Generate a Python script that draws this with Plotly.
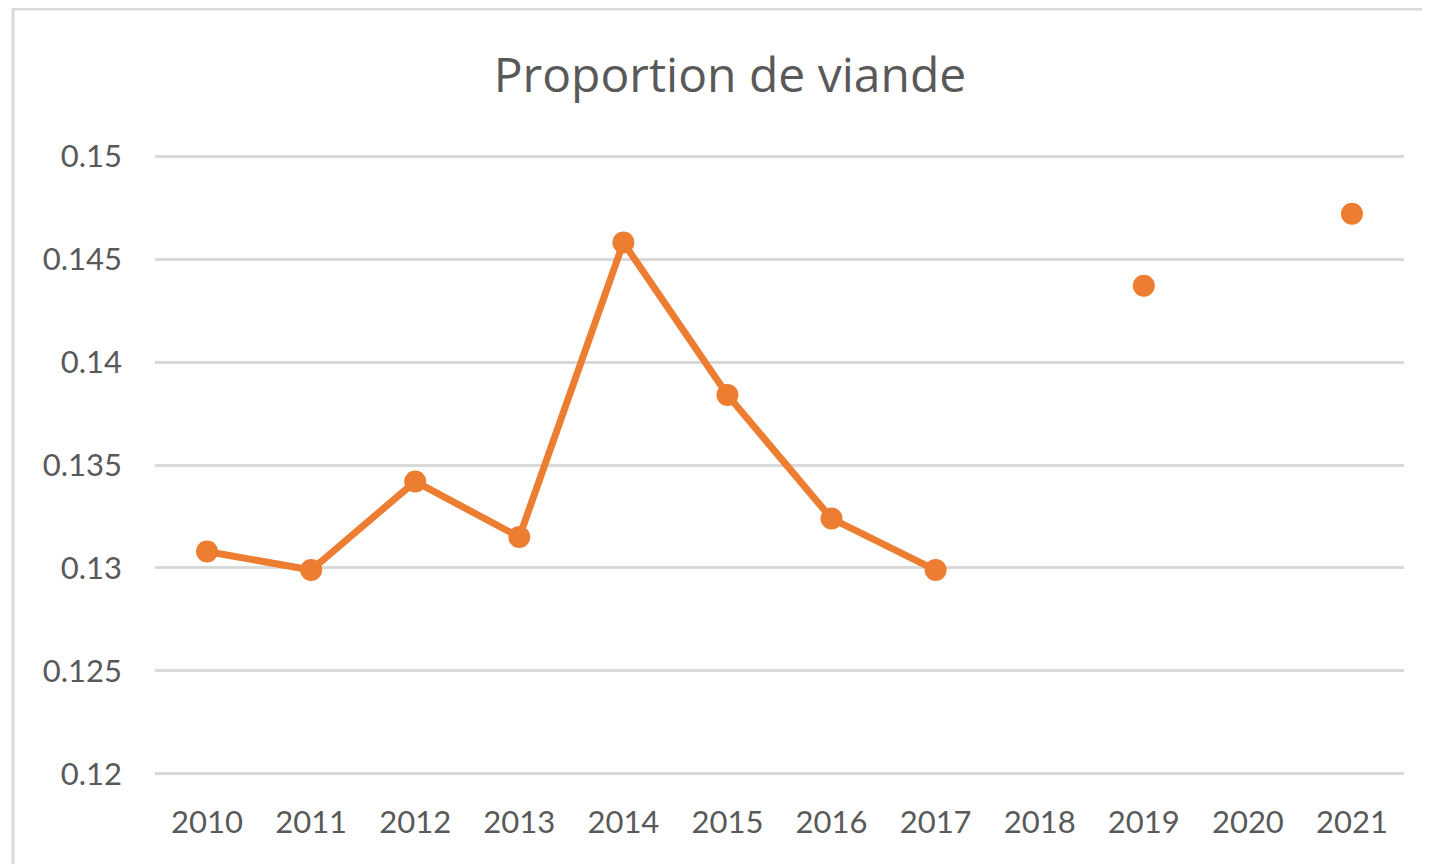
import plotly.graph_objects as go

years = ["2010", "2011", "2012", "2013", "2014", "2015", "2016", "2017", "2018", "2019", "2020", "2021"]
proportion = [0.1308, 0.1299, 0.1342, 0.1315, 0.1458, 0.1384, 0.1324, 0.1299, None, 0.1437, None, 0.1472]
y_ticks = [0.12, 0.125, 0.13, 0.135, 0.14, 0.145, 0.15]
title_text = "Proportion de viande"

OFF = 8  # page body margin
W, H = 1430, 864
L, R, T, B = 155 - OFF, 26 + OFF, 155 - OFF, 89 + OFF
pw, ph = W - L - R, H - T - B

def px_x(x):
    return (x - OFF - L) / pw

def px_y(y):
    return (H - B - (y - OFF)) / ph

fig = go.Figure()
fig.add_trace(go.Scatter(
    x=years, y=proportion, mode="lines+markers",
    line=dict(color="#ED7D31", width=7),
    marker=dict(color="#ED7D31", size=22),
    connectgaps=False, showlegend=False,
))

fig.update_layout(
    width=W, height=H,
    margin=dict(l=L, r=R, t=T, b=B),
    paper_bgcolor="white", plot_bgcolor="white",
    font=dict(family="Lato, Open Sans, sans-serif", color="#595959"),
    title=dict(text=title_text, x=(730 - OFF) / W, xanchor="center",
               y=1 - (75 - OFF) / H, yanchor="middle", yref="container",
               font=dict(size=48, family="Open Sans, sans-serif", color="#595959")),
    xaxis=dict(type="category", range=[-0.5, 11.5], showgrid=False,
               showline=False, ticks="", tickfont=dict(size=31, color="#595959"),
               ticklabelstandoff=26),
    yaxis=dict(range=[0.11995, 0.15005], tickvals=y_ticks,
               ticktext=[f"{v:g}" for v in y_ticks],
               showgrid=True, gridcolor="#D9D9D9", gridwidth=2.5,
               zeroline=False, showline=False, ticks="",
               tickfont=dict(size=31, color="#595959"), ticklabelstandoff=32),
    shapes=[dict(type="rect", xref="paper", yref="paper",
                 x0=px_x(13), x1=px_x(1445), y0=px_y(885), y1=px_y(9),
                 line=dict(color="#D9D9D9", width=3), fillcolor="rgba(0,0,0,0)",
                 layer="below")],
)

fig.write_html("out.html")
